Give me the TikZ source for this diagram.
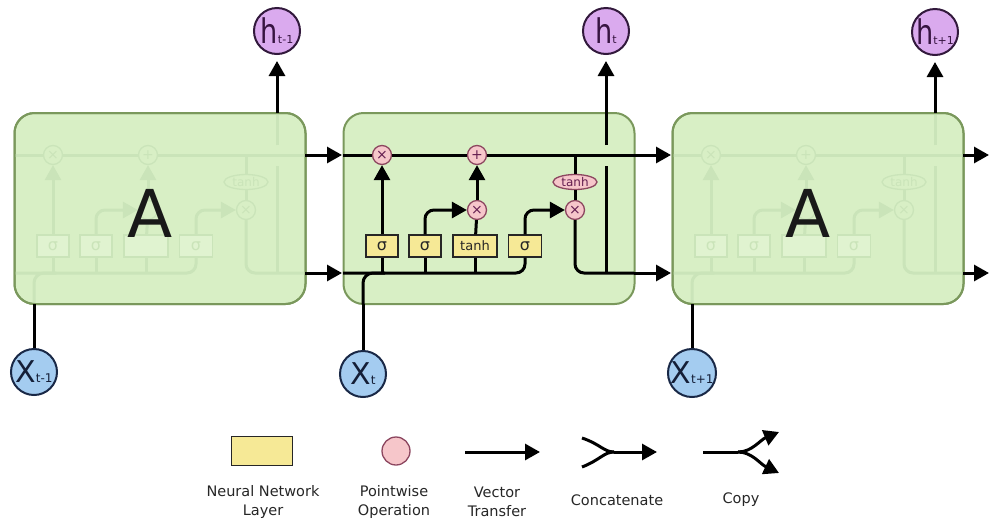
\documentclass[tikz,border=0pt]{standalone}
\usepackage{fontspec}
\setmainfont{DejaVu Sans}
\usetikzlibrary{arrows.meta,shapes.geometric}
\definecolor{boxfill}{RGB}{216,239,197}
\definecolor{boxline}{RGB}{122,152,92}
\definecolor{fadeline}{RGB}{202,228,185}
\definecolor{fadegate}{RGB}{224,243,208}
\definecolor{gatefill}{RGB}{246,233,150}
\definecolor{pwfill}{RGB}{246,198,202}
\definecolor{pwline}{RGB}{140,70,95}
\definecolor{pwtext}{RGB}{100,30,80}
\definecolor{hfill}{RGB}{218,170,238}
\definecolor{hline}{RGB}{50,25,60}
\definecolor{htext}{RGB}{55,20,65}
\definecolor{xfill}{RGB}{164,204,240}
\definecolor{xline}{RGB}{25,40,70}
\definecolor{xtext}{RGB}{20,30,55}
\newcommand\fsz[1]{\fontsize{#1}{#1}\selectfont}
\newcommand\ixlabel{×}
\newcommand\gtlabel{tanh}
\newcommand\lstmcell{%
  \node[pw] (fx) at (382,155) {×};
  \node[pw] (ad) at (477,155) {+};
  \node[pwe] (th) at (575,182) {tanh};
  \node[pw] (ox) at (575,210) {×};
  \node[pw] (ix) at (477,210) {\ixlabel};
  \node[gate,minimum width=32pt] (gf) at (382,246) {σ};
  \node[gate,minimum width=32pt] (gi) at (425,246) {σ};
  \node[gate,minimum width=44pt,font=\fsz{13}] (gt) at (475,246) {\gtlabel};
  \node[gate,minimum width=33pt] (go) at (525,246) {σ};
  \coordinate (cin) at (343,155);
  \coordinate (cout) at (634,155);
  \coordinate (hin) at (343,273);
  \coordinate (hout) at (634,273);
  \coordinate (tap) at (575,155);
  \coordinate (xin) at (363,304);
  \coordinate (xj) at (385,273);
  \coordinate (hv0) at (606,273);
  \coordinate (hv1) at (606,166);
  \coordinate (hv2) at (606,145);
  \coordinate (htop) at (606,113);
  \draw[ln] (cin) -- (fx);
  \draw[ln] (fx) -- (ad);
  \draw[ln] (ad) -- (cout);
  \draw[ln] (tap) -- (th);
  \draw[ln] (th) -- (ox);
  \draw[ln,rounded corners=9pt] (hin) -| (go.south);
  \draw[ln,rounded corners=10pt] (xin) |- (xj);
  \draw[ln] (gf.south) -- (gf.south |- hin);
  \draw[ln] (gi.south) -- (gi.south |- hin);
  \draw[ln] (gt.south) -- (gt.south |- hin);
  \draw[arr] (gf) -- (fx);
  \draw[arr,rounded corners=9pt] (gi.north) |- (ix.west);
  \draw[ln] (gt) -- (ix);
  \draw[arr] (ix) -- (ad);
  \draw[arr,rounded corners=9pt] (go.north) |- (ox.west);
  \draw[ln,rounded corners=9pt] (ox.south) |- (hout);
  \draw[ln] (hv0) -- (hv1);
  \draw[ln] (hv2) -- (htop);
}
\tikzset{
  ln/.style={line width=3pt,draw=black},
  arr/.style={ln,-{Triangle[length=15pt,width=16pt]}},
  pw/.style={circle,draw=pwline,fill=pwfill,line width=1.3pt,minimum size=19pt,inner sep=0pt,text=pwtext,font=\fsz{14}},
  pwe/.style={ellipse,draw=pwline,fill=pwfill,line width=1.3pt,minimum width=44pt,minimum height=15pt,inner sep=0pt,text=pwtext,font=\fsz{12}},
  gate/.style={rectangle,draw=black!85,fill=gatefill,line width=1.3pt,minimum height=22pt,inner sep=0pt,text=black!85,font=\fsz{16}},
  fadedcell/.style={
    ln/.style={line width=3pt,draw=fadeline},
    pw/.style={circle,draw=fadeline,fill=boxfill,line width=1.3pt,minimum size=19pt,inner sep=0pt,text=fadeline,font=\fsz{14}},
    pwe/.style={ellipse,draw=fadeline,fill=boxfill,line width=1.3pt,minimum width=44pt,minimum height=15pt,inner sep=0pt,text=fadeline,font=\fsz{12}},
    gate/.style={rectangle,draw=fadeline,fill=fadegate,line width=1.3pt,minimum height=22pt,inner sep=0pt,text=fadeline,font=\fsz{16}}},
  cellfill/.style={rectangle,rounded corners=20pt,minimum width=291pt,minimum height=191pt,fill=boxfill,draw=boxline,line width=2pt},
  cellborder/.style={rectangle,rounded corners=20pt,minimum width=291pt,minimum height=191pt,draw=boxline,line width=2pt},
  hc/.style={circle,draw=hline,fill=hfill,line width=2pt,minimum size=46pt,inner sep=0pt,text=htext},
  xc/.style={circle,draw=xline,fill=xfill,line width=2pt,minimum size=46pt,inner sep=0pt,text=xtext},
  bigA/.style={inner sep=0pt,font=\fsz{66},text=black!90},
  lgd/.style={align=center,font=\fontsize{14.5}{19}\selectfont,text=black!85,inner sep=0pt}
}
\begin{document}
\begin{tikzpicture}[x=1pt,y=-1pt]
\useasboundingbox (0,0) rectangle (989,523);
% cell boxes
\node[cellfill] (lbox) at (160,208.5) {};
\node[cellfill] (mbox) at (489,208.5) {};
\node[cellfill] (rbox) at (818,208.5) {};
% faded internals of the side cells (parts hidden behind the A carry no text)
\begin{scope}[shift={(-329,0)},name prefix=l-,fadedcell]
  \renewcommand\ixlabel{}\renewcommand\gtlabel{}%
  \lstmcell
\end{scope}
\begin{scope}[shift={(329,0)},name prefix=r-,fadedcell]
  \renewcommand\ixlabel{}\renewcommand\gtlabel{}%
  \lstmcell
\end{scope}
\node[cellborder] (lboxb) at (lbox.center) {};
\node[cellborder] (rboxb) at (rbox.center) {};
\node[bigA] (lA) at (150,213) {A};
\node[bigA] (rA) at (808,213) {A};
% middle cell
\begin{scope}[name prefix=m-]
  \lstmcell
\end{scope}
% inputs and outputs
\node[hc] (hl) at (277,31) {\scalebox{0.8}[1]{\fsz{34}h}\fsz{11}t-1};
\node[hc] (hm) at (606,31) {\scalebox{0.8}[1]{\fsz{34}h}\fsz{11}t};
\node[hc] (hr) at (935,32) {\scalebox{0.8}[1]{\fsz{34}h}\fsz{11}t+1};
\node[xc] (xl) at (34,372) {\fsz{30}X\fsz{12}t-1};
\node[xc] (xm) at (363,374) {\fsz{30}X\fsz{12}t};
\node[xc] (xr) at (692,373) {\fsz{30}X\fsz{12}t+1};
\coordinate (rend1) at (989,155);
\coordinate (rend2) at (989,273);
\draw[arr,shorten >=1pt] (l-cout) -- (m-cin);
\draw[arr,shorten >=1pt] (l-hout) -- (m-hin);
\draw[arr,shorten >=1pt] (m-cout) -- (r-cin);
\draw[arr,shorten >=1pt] (m-hout) -- (r-hin);
\draw[arr] (r-cout) -- (rend1);
\draw[arr] (r-hout) -- (rend2);
\draw[arr,shorten >=6pt] (l-htop) -- (hl);
\draw[arr,shorten >=6pt] (m-htop) -- (hm);
\draw[arr,shorten >=6pt] (r-htop) -- (hr);
\draw[ln] (xl) -- (l-xin);
\draw[ln] (xm) -- (m-xin);
\draw[ln] (xr) -- (r-xin);
% legend
\node[gate,minimum width=61pt,minimum height=29pt,line width=1.8pt] (lg1) at (262,451) {};
\node[pw,minimum size=28pt] (lg2) at (396,451) {};
\coordinate (v0) at (465,452);
\coordinate (v1) at (540,452);
\draw[arr] (v0) -- (v1);
\coordinate (c0) at (582,438);
\coordinate (c1) at (582,467);
\coordinate (cm) at (614,452);
\coordinate (c2) at (657,452);
\draw[ln] (c0) .. controls (600,444) and (604,452) .. (cm);
\draw[ln] (c1) .. controls (600,460) and (604,452) .. (cm);
\draw[arr] (cm) -- (c2);
\coordinate (p0) at (703,452);
\coordinate (pm) at (738,452);
\coordinate (pu) at (779,432);
\coordinate (pd) at (779,473);
\draw[ln] (p0) -- (pm);
\draw[arr] (pm) .. controls (752,452) and (760,440) .. (pu);
\draw[arr] (pm) .. controls (752,452) and (760,464) .. (pd);
\node[lgd] (t1) at (263,502) {Neural Network\\Layer};
\node[lgd] (t2) at (394,502) {Pointwise\\Operation};
\node[lgd] (t3) at (497,502) {Vector\\Transfer};
\node[lgd] (t4) at (617,500) {Concatenate};
\node[lgd] (t5) at (741,500) {Copy};
\end{tikzpicture}
\end{document}
